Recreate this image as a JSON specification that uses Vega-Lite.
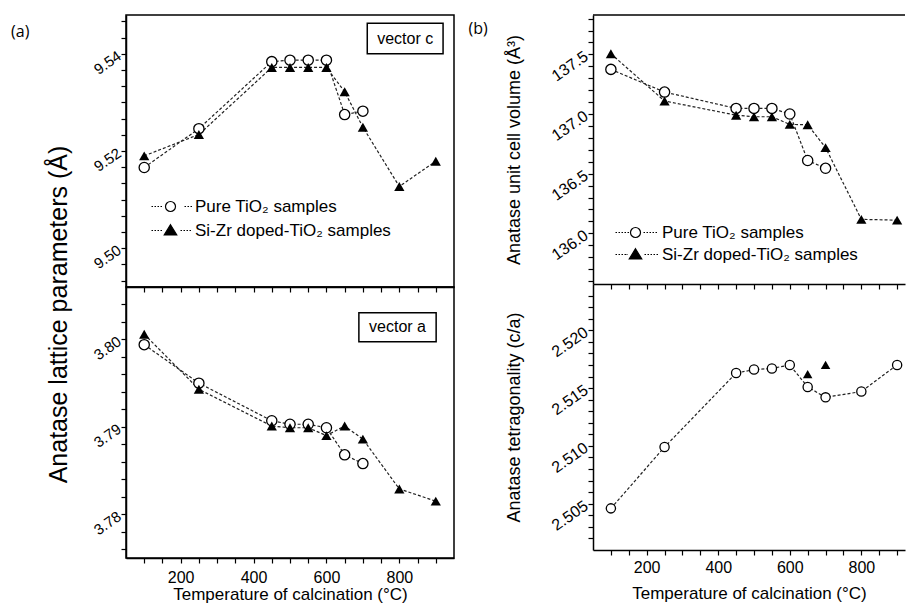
{
  "$schema": "https://vega.github.io/schema/vega-lite/v6.json",
  "background": "white",
  "padding": {"left": 10, "top": 12, "right": 0, "bottom": 0},
  "config": {
    "font": "Liberation Sans",
    "view": {"stroke": "black", "strokeWidth": 1.5},
    "axis": {"domainColor": "black", "domainWidth": 1.5, "tickColor": "black", "tickWidth": 1.2, "tickSize": 5, "tickCount": 1000, "labelColor": "black", "titleColor": "black", "labelFont": "Liberation Sans", "titleFont": "Liberation Sans", "labelFontSize": 15, "titleFontWeight": "normal", "grid": false, "labelOverlap": false, "labelFlush": false, "labelBound": false},
    "title": {"font": "Open Sans", "fontSize": 16, "fontWeight": "normal", "anchor": "start", "frame": "bounds", "color": "black"}
  },
  "datasets": {
    "c": [
      {"T": 100, "v": 9.5166, "s": "P"}, {"T": 250, "v": 9.5246, "s": "P"}, {"T": 450, "v": 9.5384, "s": "P"}, {"T": 500, "v": 9.5387, "s": "P"}, {"T": 550, "v": 9.5387, "s": "P"}, {"T": 600, "v": 9.5387, "s": "P"}, {"T": 650, "v": 9.5275, "s": "P"}, {"T": 700, "v": 9.5282, "s": "P"},
      {"T": 100, "v": 9.519, "s": "D"}, {"T": 250, "v": 9.5234, "s": "D"}, {"T": 450, "v": 9.5372, "s": "D"}, {"T": 500, "v": 9.5372, "s": "D"}, {"T": 550, "v": 9.5372, "s": "D"}, {"T": 600, "v": 9.5372, "s": "D"}, {"T": 650, "v": 9.5322, "s": "D"}, {"T": 700, "v": 9.5249, "s": "D"}, {"T": 800, "v": 9.5127, "s": "D"}, {"T": 900, "v": 9.5179, "s": "D"}
    ],
    "a": [
      {"T": 100, "v": 3.7994, "s": "P"}, {"T": 250, "v": 3.795, "s": "P"}, {"T": 450, "v": 3.7907, "s": "P"}, {"T": 500, "v": 3.7903, "s": "P"}, {"T": 550, "v": 3.7903, "s": "P"}, {"T": 600, "v": 3.7899, "s": "P"}, {"T": 650, "v": 3.7868, "s": "P"}, {"T": 700, "v": 3.7858, "s": "P"},
      {"T": 100, "v": 3.8006, "s": "D"}, {"T": 250, "v": 3.7943, "s": "D"}, {"T": 450, "v": 3.7901, "s": "D"}, {"T": 500, "v": 3.7899, "s": "D"}, {"T": 550, "v": 3.7899, "s": "D"}, {"T": 600, "v": 3.789, "s": "D"}, {"T": 650, "v": 3.7901, "s": "D"}, {"T": 700, "v": 3.7886, "s": "D"}, {"T": 800, "v": 3.7829, "s": "D"}, {"T": 900, "v": 3.7815, "s": "D"}
    ],
    "vol": [
      {"T": 100, "v": 137.374, "s": "P"}, {"T": 250, "v": 137.184, "s": "P"}, {"T": 450, "v": 137.047, "s": "P"}, {"T": 500, "v": 137.047, "s": "P"}, {"T": 550, "v": 137.047, "s": "P"}, {"T": 600, "v": 137.0, "s": "P"}, {"T": 650, "v": 136.61, "s": "P"}, {"T": 700, "v": 136.545, "s": "P"},
      {"T": 100, "v": 137.505, "s": "D"}, {"T": 250, "v": 137.109, "s": "D"}, {"T": 450, "v": 136.99, "s": "D"}, {"T": 500, "v": 136.977, "s": "D"}, {"T": 550, "v": 136.977, "s": "D"}, {"T": 600, "v": 136.913, "s": "D"}, {"T": 650, "v": 136.91, "s": "D"}, {"T": 700, "v": 136.718, "s": "D"}, {"T": 800, "v": 136.117, "s": "D"}, {"T": 900, "v": 136.11, "s": "D"}
    ],
    "tet": [
      {"T": 100, "v": 2.5046, "s": "P"}, {"T": 250, "v": 2.5099, "s": "P"}, {"T": 450, "v": 2.5163, "s": "P"}, {"T": 500, "v": 2.5166, "s": "P"}, {"T": 550, "v": 2.5167, "s": "P"}, {"T": 600, "v": 2.517, "s": "P"}, {"T": 650, "v": 2.5151, "s": "P"}, {"T": 700, "v": 2.5142, "s": "P"}, {"T": 800, "v": 2.5147, "s": "P"}, {"T": 900, "v": 2.517, "s": "P"},
      {"T": 650, "v": 2.5162, "s": "D"}, {"T": 700, "v": 2.517, "s": "D"}
    ]
  },
  "resolve": {"scale": {"x": "independent", "y": "independent", "shape": "independent", "fill": "independent", "stroke": "independent"}, "legend": {"shape": "independent", "fill": "independent", "stroke": "independent"}},
  "spacing": 13,
  "hconcat": [
    {
      "vconcat": [
        {
          "width": 328, "height": 272,
          "title": {"text": "(a)", "dx": -80, "dy": 29},
          "data": {"name": "c"},
          "layer": [
            {"mark": {"type": "line", "strokeDash": [3, 2], "color": "#222", "strokeWidth": 1.2},
             "encoding": {
               "x": {"field": "T", "type": "quantitative", "scale": {"domain": [50, 950], "nice": false, "zero": false}, "axis": {"values": [100,150,200,250,300,350,400,450,500,550,600,650,700,750,800,850,900], "tickCount": 1000, "labels": false, "title": null}},
               "y": {"field": "v", "type": "quantitative", "scale": {"domain": [9.492, 9.548], "nice": false, "zero": false}, "axis": {"values": [9.49333,9.49667,9.5,9.50333,9.50667,9.51,9.51333,9.51667,9.52,9.52333,9.52667,9.53,9.53333,9.53667,9.54,9.54333,9.54667], "tickCount": 1000, "labelExpr": "abs(datum.value*50 - round(datum.value*50)) < 0.001 ? format(datum.value, '.2f') : ''", "labelAngle": -35, "title": null}},
               "detail": {"field": "s"}
             }},
            {"transform": [{"filter": "datum.s == 'P'"}], "mark": {"type": "point", "shape": "circle", "filled": true, "fill": "white", "stroke": "black", "strokeWidth": 1.3, "size": 105, "opacity": 1},
             "encoding": {"x": {"field": "T", "type": "quantitative"}, "y": {"field": "v", "type": "quantitative"}}},
            {"transform": [{"filter": "datum.s == 'D'"}], "mark": {"type": "point", "shape": "triangle-up", "filled": true, "color": "black", "size": 105, "opacity": 1},
             "encoding": {"x": {"field": "T", "type": "quantitative"}, "y": {"field": "v", "type": "quantitative"}}},
            {"transform": [{"filter": "false"}], "mark": {"type": "point", "filled": true, "strokeWidth": 1.2, "opacity": 1},
             "encoding": {
               "shape": {"field": "s", "type": "nominal", "scale": {"domain": ["Pure TiO₂ samples", "Si-Zr doped-TiO₂ samples"], "range": ["M-3.8,0h0.3M-3.2,0h0.3M-2.6,0h0.3M-2,0h0.3M2.8,0h0.3M3.4,0h0.3M4,0h0.3M1,0A1,1,0,1,1,-1,0A1,1,0,1,1,1,0Z", "M-3.8,0h0.3M-3.2,0h0.3M-2.6,0h0.3M-2,0h0.3M2,0h0.3M2.6,0h0.3M3.2,0h0.3M3.8,0h0.3M0,-1.15L1.25,0.9L-1.25,0.9Z"]},
                 "legend": {"title": null, "orient": "none", "legendX": 36, "legendY": 183, "padding": 0, "labelFont": "Liberation Sans", "labelFontSize": 17, "labelColor": "black", "labelLimit": 400, "symbolSize": 100, "labelOffset": 16, "rowPadding": 6, "symbolStrokeWidth": 1.2}},
               "fill": {"field": "s", "type": "nominal", "scale": {"domain": ["Pure TiO₂ samples", "Si-Zr doped-TiO₂ samples"], "range": ["white", "black"]},
                 "legend": {"title": null, "orient": "none", "legendX": 36, "legendY": 183, "padding": 0, "labelFont": "Liberation Sans", "labelFontSize": 17, "labelColor": "black", "labelLimit": 400, "symbolSize": 100, "labelOffset": 16, "rowPadding": 6, "symbolStrokeWidth": 1.2}},
               "stroke": {"field": "s", "type": "nominal", "scale": {"domain": ["Pure TiO₂ samples", "Si-Zr doped-TiO₂ samples"], "range": ["black", "black"]},
                 "legend": {"title": null, "orient": "none", "legendX": 36, "legendY": 183, "padding": 0, "labelFont": "Liberation Sans", "labelFontSize": 17, "labelColor": "black", "labelLimit": 400, "symbolSize": 100, "labelOffset": 16, "rowPadding": 6, "symbolStrokeWidth": 1.2}}
             }},
            {"data": {"values": [{}]}, "mark": {"type": "rect", "fill": "white", "stroke": "black", "strokeWidth": 1.5},
             "encoding": {"x": {"datum": 712}, "x2": {"datum": 920}, "y": {"datum": 9.5463}, "y2": {"datum": 9.5400}}},
            {"data": {"values": [{}]}, "mark": {"type": "text", "fontSize": 16, "font": "Liberation Sans", "color": "black"},
             "encoding": {"x": {"datum": 816}, "y": {"datum": 9.5431}, "text": {"value": "vector c"}}}
          ]
        },
        {
          "width": 328, "height": 271,
          "data": {"name": "a"},
          "layer": [
            {"mark": {"type": "line", "strokeDash": [3, 2], "color": "#222", "strokeWidth": 1.2},
             "encoding": {
               "x": {"field": "T", "type": "quantitative", "scale": {"domain": [50, 950], "nice": false, "zero": false}, "axis": {"values": [100,150,200,250,300,350,400,450,500,550,600,650,700,750,800,850,900], "tickCount": 1000, "labelExpr": "datum.value % 200 == 0 ? datum.label : ''", "labelFontSize": 16, "labelPadding": 6, "title": "Temperature of calcination (°C)", "titleFontSize": 17, "titlePadding": 1}},
               "y": {"field": "v", "type": "quantitative", "scale": {"domain": [3.775, 3.806], "nice": false, "zero": false}, "axis": {"values": [3.776,3.778,3.78,3.782,3.784,3.786,3.788,3.79,3.792,3.794,3.796,3.798,3.8,3.802,3.804], "tickCount": 1000, "labelExpr": "abs(datum.value*100 - round(datum.value*100)) < 0.001 ? format(datum.value, '.2f') : ''", "labelAngle": -35, "title": "Anatase lattice parameters (Å)", "titleFontSize": 25, "titleY": 27, "titlePadding": 20}},
               "detail": {"field": "s"}
             }},
            {"transform": [{"filter": "datum.s == 'P'"}], "mark": {"type": "point", "shape": "circle", "filled": true, "fill": "white", "stroke": "black", "strokeWidth": 1.3, "size": 105, "opacity": 1},
             "encoding": {"x": {"field": "T", "type": "quantitative"}, "y": {"field": "v", "type": "quantitative"}}},
            {"transform": [{"filter": "datum.s == 'D'"}], "mark": {"type": "point", "shape": "triangle-up", "filled": true, "color": "black", "size": 105, "opacity": 1},
             "encoding": {"x": {"field": "T", "type": "quantitative"}, "y": {"field": "v", "type": "quantitative"}}},
            {"data": {"values": [{}]}, "mark": {"type": "rect", "fill": "white", "stroke": "black", "strokeWidth": 1.5},
             "encoding": {"x": {"datum": 689}, "x2": {"datum": 901}, "y": {"datum": 3.80306}, "y2": {"datum": 3.79974}}},
            {"data": {"values": [{}]}, "mark": {"type": "text", "fontSize": 16, "font": "Liberation Sans", "color": "black"},
             "encoding": {"x": {"datum": 795}, "y": {"datum": 3.8014}, "text": {"value": "vector a"}}}
          ]
        }
      ],
      "spacing": 0,
      "bounds": "flush",
      "resolve": {"scale": {"x": "independent", "y": "independent"}}
    },
    {
      "vconcat": [
        {
          "width": 312, "height": 269,
          "view": {"stroke": null},
          "title": {"text": "(b)", "dx": -37, "dy": 29},
          "data": {"name": "vol"},
          "layer": [
            {"mark": {"type": "line", "strokeDash": [3, 2], "color": "#222", "strokeWidth": 1.2},
             "encoding": {
               "x": {"field": "T", "type": "quantitative", "scale": {"domain": [50, 922], "nice": false, "zero": false}, "axis": {"values": [100,150,200,250,300,350,400,450,500,550,600,650,700,750,800,850,900], "tickCount": 1000, "labels": false, "title": null}},
               "y": {"field": "v", "type": "quantitative", "scale": {"domain": [135.575, 137.83], "nice": false, "zero": false}, "axis": {"values": [135.6,135.7,135.8,135.9,136.0,136.1,136.2,136.3,136.4,136.5,136.6,136.7,136.8,136.9,137.0,137.1,137.2,137.3,137.4,137.5,137.6,137.7,137.8], "tickCount": 1000, "labelExpr": "abs(datum.value*2 - round(datum.value*2)) < 0.001 ? format(datum.value, '.1f') : ''", "labelAngle": -35, "labelFontSize": 16, "title": "Anatase unit cell volume (Å³)", "titleFontSize": 18, "titlePadding": 25}},
               "detail": {"field": "s"}
             }},
            {"transform": [{"filter": "datum.s == 'P'"}], "mark": {"type": "point", "shape": "circle", "filled": true, "fill": "white", "stroke": "black", "strokeWidth": 1.3, "size": 105, "opacity": 1},
             "encoding": {"x": {"field": "T", "type": "quantitative"}, "y": {"field": "v", "type": "quantitative"}}},
            {"transform": [{"filter": "datum.s == 'D'"}], "mark": {"type": "point", "shape": "triangle-up", "filled": true, "color": "black", "size": 105, "opacity": 1},
             "encoding": {"x": {"field": "T", "type": "quantitative"}, "y": {"field": "v", "type": "quantitative"}}},
            {"data": {"values": [{}]}, "mark": {"type": "rule", "color": "black", "strokeWidth": 1.5},
             "encoding": {"x": {"datum": 50}, "x2": {"datum": 922}, "y": {"datum": 137.83}}},
            {"transform": [{"filter": "false"}], "mark": {"type": "point", "filled": true, "strokeWidth": 1.2, "opacity": 1},
             "encoding": {
               "shape": {"field": "s", "type": "nominal", "scale": {"domain": ["Pure TiO₂ samples", "Si-Zr doped-TiO₂ samples"], "range": ["M-4,0h0.3M-3.4,0h0.3M-2.8,0h0.3M-2.2,0h0.3M-1.6,0h0.3M1.6,0h0.3M2.2,0h0.3M2.8,0h0.3M3.4,0h0.3M4,0h0.3M1,0A1,1,0,1,1,-1,0A1,1,0,1,1,1,0Z", "M-4,0h0.3M-3.4,0h0.3M-2.8,0h0.3M-2.2,0h0.3M-1.8,0h0.2M1.8,0h0.3M2.4,0h0.3M3,0h0.3M3.6,0h0.3M4.2,0h0.3M0,-1.15L1.25,0.9L-1.25,0.9Z"]},
                 "legend": {"title": null, "orient": "none", "legendX": 34, "legendY": 209, "padding": 0, "labelFont": "Liberation Sans", "labelFontSize": 17, "labelColor": "black", "labelLimit": 400, "symbolSize": 100, "labelOffset": 18, "rowPadding": 4, "symbolStrokeWidth": 1.2}},
               "fill": {"field": "s", "type": "nominal", "scale": {"domain": ["Pure TiO₂ samples", "Si-Zr doped-TiO₂ samples"], "range": ["white", "black"]},
                 "legend": {"title": null, "orient": "none", "legendX": 34, "legendY": 209, "padding": 0, "labelFont": "Liberation Sans", "labelFontSize": 17, "labelColor": "black", "labelLimit": 400, "symbolSize": 100, "labelOffset": 18, "rowPadding": 4, "symbolStrokeWidth": 1.2}},
               "stroke": {"field": "s", "type": "nominal", "scale": {"domain": ["Pure TiO₂ samples", "Si-Zr doped-TiO₂ samples"], "range": ["black", "black"]},
                 "legend": {"title": null, "orient": "none", "legendX": 34, "legendY": 209, "padding": 0, "labelFont": "Liberation Sans", "labelFontSize": 17, "labelColor": "black", "labelLimit": 400, "symbolSize": 100, "labelOffset": 18, "rowPadding": 4, "symbolStrokeWidth": 1.2}}
             }}
          ]
        },
        {
          "width": 312, "height": 266,
          "view": {"stroke": null},
          "data": {"name": "tet"},
          "layer": [
            {"transform": [{"filter": "datum.s == 'P'"}], "mark": {"type": "line", "strokeDash": [3, 2], "color": "#222", "strokeWidth": 1.2},
             "encoding": {
               "x": {"field": "T", "type": "quantitative", "scale": {"domain": [50, 922], "nice": false, "zero": false}, "axis": {"values": [100,150,200,250,300,350,400,450,500,550,600,650,700,750,800,850,900], "tickCount": 1000, "labelExpr": "datum.value % 200 == 0 ? datum.label : ''", "labelFontSize": 16, "labelPadding": 4, "title": "Temperature of calcination (°C)", "titleFontSize": 17, "titlePadding": 10}},
               "y": {"field": "v", "type": "quantitative", "scale": {"domain": [2.501, 2.524], "nice": false, "zero": false}, "axis": {"values": [2.502,2.503,2.504,2.505,2.506,2.507,2.508,2.509,2.51,2.511,2.512,2.513,2.514,2.515,2.516,2.517,2.518,2.519,2.52,2.521,2.522,2.523], "tickCount": 1000, "labelExpr": "abs(datum.value*200 - round(datum.value*200)) < 0.001 ? format(datum.value, '.3f') : ''", "labelAngle": -35, "labelFontSize": 16, "title": "Anatase tetragonality (c/a)", "titleFontSize": 18, "titlePadding": 25}}
             }},
            {"transform": [{"filter": "datum.s == 'P'"}], "mark": {"type": "point", "shape": "circle", "filled": true, "fill": "white", "stroke": "black", "strokeWidth": 1.3, "size": 85, "opacity": 1},
             "encoding": {"x": {"field": "T", "type": "quantitative"}, "y": {"field": "v", "type": "quantitative"}}},
            {"transform": [{"filter": "datum.s == 'D'"}], "mark": {"type": "point", "shape": "triangle-up", "filled": true, "color": "black", "size": 90, "opacity": 1},
             "encoding": {"x": {"field": "T", "type": "quantitative"}, "y": {"field": "v", "type": "quantitative"}}}
          ]
        }
      ],
      "spacing": 0,
      "bounds": "flush",
      "resolve": {"scale": {"x": "independent", "y": "independent"}}
    }
  ]
}
